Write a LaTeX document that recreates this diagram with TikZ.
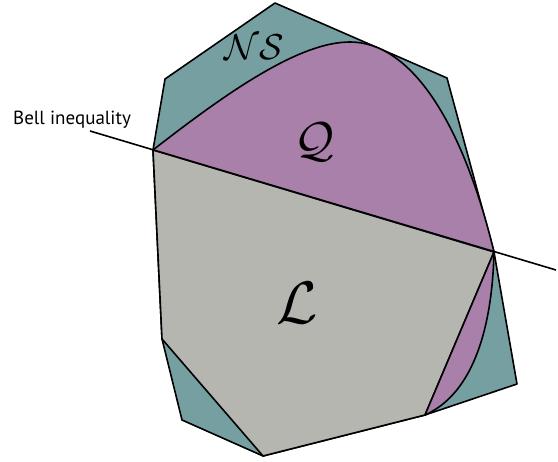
\documentclass[tikz,border=0pt]{standalone}
\usepackage{fontspec}
\usepackage{graphicx}
\newfontfamily\labelfont{PT Sans}
\definecolor{nsteal}{RGB}{118,159,161}
\definecolor{qpurple}{RGB}{168,128,169}
\definecolor{lgray}{RGB}{182,182,177}
\begin{document}
\begin{tikzpicture}[x=1pt,y=-1pt,
  edge/.style={line width=1.6pt,line join=round},
  setlabel/.style={inner sep=0pt}]
\useasboundingbox (0,0) rectangle (558,462);
% vertices
\coordinate (a) at (275,3);
\coordinate (b) at (447,78);
\coordinate (c) at (494,252);
\coordinate (d) at (517,384);
\coordinate (e) at (425,415);
\coordinate (f) at (263,456);
\coordinate (g) at (182,420);
\coordinate (h) at (162,339);
\coordinate (p) at (153,150);
\coordinate (k) at (165,79);
\coordinate (top) at (350,42);
\coordinate (bl) at (90,131);
\coordinate (br) at (556,270);
% NS
\filldraw[edge,fill=nsteal] (a) -- (b) -- (c) -- (d) -- (e) -- (f) -- (g) -- (h) -- (p) -- (k) -- cycle;
% L
\filldraw[edge,fill=lgray] (p) -- (c) -- (e) -- (f) -- (h) -- cycle;
% Q upper
\fill[qpurple] (p) .. controls (230,90) and (300,42) .. (top)
   .. controls (410,42) and (462,120) .. (c) -- cycle;
\draw[edge] (p) .. controls (230,90) and (300,42) .. (top)
   .. controls (410,42) and (462,120) .. (c);
% Q lower
\fill[qpurple] (c) .. controls (492,335) and (470,395) .. (e) -- cycle;
\draw[edge] (c) .. controls (492,335) and (470,395) .. (e) -- (c);
% Bell line
\draw[edge] (bl) -- (br);
% labels
\node[setlabel] (ns) at (254,47) {\scalebox{3.6}{$\mathcal{NS}$}};
\node[setlabel] (q) at (315,142) {\scalebox{4.9}{$\mathcal{Q}$}};
\node[setlabel] (l) at (297,303) {\scalebox{6}{$\mathcal{L}$}};
\node[setlabel,anchor=base west] (bell) at (13,125) {\labelfont\fontsize{19}{19}\selectfont Bell inequality};
\end{tikzpicture}
\end{document}
